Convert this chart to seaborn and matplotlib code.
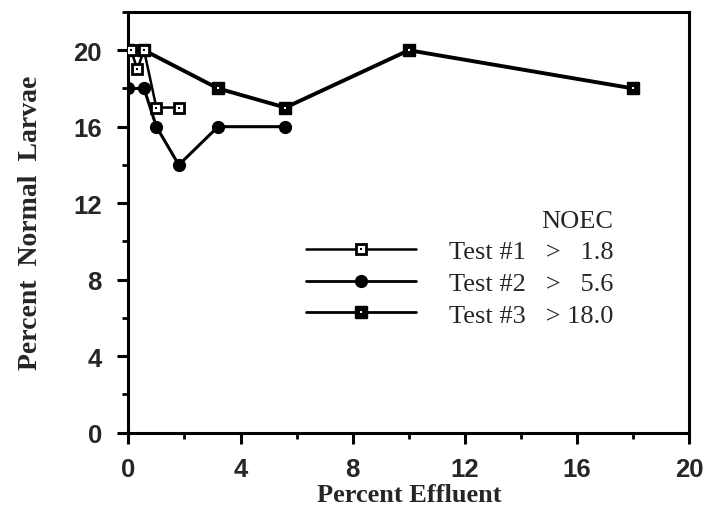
import matplotlib
matplotlib.use("Agg")
import matplotlib.pyplot as plt
from matplotlib.lines import Line2D
from matplotlib.legend_handler import HandlerTuple
from matplotlib.ticker import MultipleLocator
import seaborn as sns
import pandas as pd

# Percent effluent concentrations and counts of normal larvae for each test
test1_x = [0.1, 0.32, 0.56, 1.0, 1.8]
test1_y = [20, 19, 20, 17, 17]
test2_x = [0.0, 0.56, 1.0, 1.8, 3.2, 5.6]
test2_y = [18, 18, 16, 14, 16, 16]
test3_x = [0.0, 0.56, 3.2, 5.6, 10.0, 18.0]
test3_y = [20, 20, 18, 17, 20, 18]

test_names = ["Test #1", "Test #2", "Test #3"]
noec_labels = [">   1.8", ">   5.6", "> 18.0"]

df1 = pd.DataFrame({"effluent": test1_x, "normal": test1_y})
df2 = pd.DataFrame({"effluent": test2_x, "normal": test2_y})
df3 = pd.DataFrame({"effluent": test3_x, "normal": test3_y})

sns.set_theme(style="ticks")
plt.rcParams["font.family"] = ["Liberation Sans", "DejaVu Sans"]

fig = plt.figure(figsize=(7.07, 5.10), dpi=100)
ax = fig.add_axes([0.1815, 0.15, 0.7935, 0.8245])

# Test #3: heavy line, solid squares with a small light centre
sns.lineplot(data=df3, x="effluent", y="normal", ax=ax, color="black",
             linewidth=2.8, marker="s", markersize=8.5, markerfacecolor="black",
             markeredgecolor="black", markeredgewidth=1.0, zorder=3, legend=False)
sns.scatterplot(data=df3, x="effluent", y="normal", ax=ax, color="white",
                marker="s", s=2.5, linewidth=0, zorder=4, legend=False)

# Test #2: filled round markers
sns.lineplot(data=df2, x="effluent", y="normal", ax=ax, color="black",
             linewidth=2.2, marker="o", markersize=8.5, markerfacecolor="black",
             markeredgecolor="black", markeredgewidth=1.0, zorder=3, legend=False)

# Test #1: open squares with a centre dot
sns.lineplot(data=df1, x="effluent", y="normal", ax=ax, color="black",
             linewidth=1.8, marker="s", markersize=7, markerfacecolor="white",
             markeredgecolor="black", markeredgewidth=2.0, zorder=5, legend=False)
sns.scatterplot(data=df1, x="effluent", y="normal", ax=ax, color="black",
                marker="s", s=3, linewidth=0, zorder=6, legend=False)

ax.set_xlim(0, 20)
ax.set_ylim(0, 22)
ax.xaxis.set_major_locator(MultipleLocator(4))
ax.xaxis.set_minor_locator(MultipleLocator(2))
ax.yaxis.set_major_locator(MultipleLocator(4))
ax.yaxis.set_minor_locator(MultipleLocator(2))
ax.tick_params(which="major", direction="out", length=8, width=2.2,
               labelsize=18.5, color="black")
ax.tick_params(axis="x", which="major", pad=10)
ax.tick_params(axis="y", which="major", pad=11)
ax.tick_params(which="minor", direction="out", length=4, width=2.0, color="black")
for lab in ax.get_xticklabels() + ax.get_yticklabels():
    lab.set_fontweight("bold")

for side in ["left", "right", "top", "bottom"]:
    ax.spines[side].set_visible(True)
    ax.spines[side].set_linewidth(2.2)
    ax.spines[side].set_color("black")

serif = ["Liberation Serif", "DejaVu Serif"]
ax.set_xlabel("Percent Effluent", family=serif, fontweight="bold",
              fontsize=19, labelpad=1)
ax.set_ylabel("Percent  Normal  Larvae", family=serif, fontweight="bold",
              fontsize=20, labelpad=22)

# Legend: line + marker handles, with an inner dot where the marker has one
h1 = (Line2D([], [], color="black", lw=1.8, marker="s", ms=7, mfc="white",
             mec="black", mew=2.0),
      Line2D([], [], ls="none", marker="s", ms=1.8, mew=0, color="black"))
h2 = Line2D([], [], color="black", lw=2.0, marker="o", ms=8.5)
h3 = (Line2D([], [], color="black", lw=2.0, marker="s", ms=8.5, mfc="black",
             mec="black", mew=1.0),
      Line2D([], [], ls="none", marker="s", ms=1.6, mew=0, color="white"))
labels = [f"{n}   {v}" for n, v in zip(test_names, noec_labels)]
leg = ax.legend([h1, h2, h3], labels, handler_map={tuple: HandlerTuple(ndivide=1)},
                title="NOEC", alignment="right", loc="upper left",
                bbox_to_anchor=(0.317, 0.53), frameon=False, numpoints=1,
                handlelength=4.15, handletextpad=1.25, labelspacing=0.31,
                borderpad=0, borderaxespad=0,
                prop={"family": serif, "size": 19},
                title_fontproperties={"family": serif, "size": 19})

fig.savefig("out.png", dpi=100)
